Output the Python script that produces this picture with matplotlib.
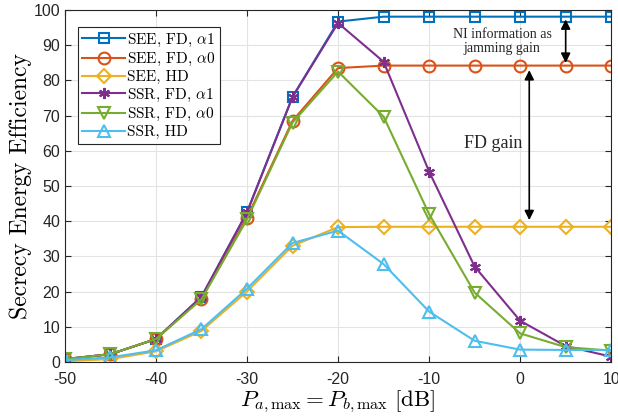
import numpy as np
import matplotlib
matplotlib.use("Agg")
import matplotlib.pyplot as plt

plt.rcParams['mathtext.fontset'] = 'cm'
plt.rcParams['font.family'] = ['Liberation Sans', 'DejaVu Sans']
plt.rcParams['axes.unicode_minus'] = False

# transmit power in dB
p_db = [-50, -45, -40, -35, -30, -25, -20, -15, -10, -5, 0, 5, 10]

see_fd_a1 = [0.8, 2.2, 6.5, 18.5, 42.5, 75.3, 96.7, 98.1, 98.1, 98.1, 98.1, 98.1, 98.1]
see_fd_a0 = [0.8, 2.2, 6.5, 18.0, 41.0, 68.5, 83.5, 84.2, 84.2, 84.2, 84.2, 84.2, 84.2]
see_hd = [0.2, 0.8, 3.0, 8.8, 20.0, 33.0, 38.3, 38.4, 38.4, 38.4, 38.4, 38.4, 38.4]
ssr_fd_a1 = [0.8, 2.2, 6.5, 18.5, 42.5, 75.3, 96.3, 85.3, 54.1, 27.1, 11.7, 4.5, 1.5]
ssr_fd_a0 = [0.8, 2.2, 6.5, 17.8, 40.5, 68.0, 82.5, 69.7, 42.0, 19.7, 8.1, 4.2, 3.2]
ssr_hd = [0.5, 1.3, 3.3, 9.3, 20.8, 33.8, 37.3, 27.8, 14.3, 6.0, 3.5, 3.4, 3.4]

labels = [r'SEE, FD, $\alpha1$', r'SEE, FD, $\alpha0$', 'SEE, HD',
          r'SSR, FD, $\alpha1$', r'SSR, FD, $\alpha0$', 'SSR, HD']
colors = ['#0072BD', '#D95319', '#EDB120', '#7E2F8E', '#77AC30', '#4DBEEE']
markers = ['s', 'o', 'D', (6, 2, 0), 'v', '^']
sizes = [7.5, 8.5, 7.5, 8, 9, 9]
series = [see_fd_a1, see_fd_a0, see_hd, ssr_fd_a1, ssr_fd_a0, ssr_hd]

fig = plt.figure(figsize=(6.18, 4.16), dpi=100)
ax = fig.add_axes([0.105, 0.13, 0.884, 0.846])

for y, lab, c, m, ms in zip(series, labels, colors, markers, sizes):
    ax.plot(p_db, y, color=c, marker=m, markersize=ms, markerfacecolor='none',
            markeredgecolor=c, markeredgewidth=1.5, linewidth=1.5, label=lab)

ax.set_xlim(-50, 10)
ax.set_ylim(0, 100)
ax.set_xticks(np.arange(-50, 11, 10))
ax.set_yticks(np.arange(0, 101, 10))
ax.tick_params(direction='in', top=True, right=True, labelsize=11.5, length=4,
               colors='#262626')
ax.tick_params(axis='x', pad=7)
ax.grid(True, color='#e3e3e3', linewidth=0.8)
ax.set_axisbelow(True)
for s in ax.spines.values():
    s.set_color('#262626')
    s.set_linewidth(0.8)

ax.set_xlabel(r'$P_{a,\mathrm{max}} = P_{b,\mathrm{max}}\ [\mathrm{dB}]$', fontsize=16.5, labelpad=1)
ax.set_ylabel('Secrecy Energy Efficiency', fontsize=17, family='cmr10', labelpad=1)

leg = ax.legend(loc='upper left', bbox_to_anchor=(0.018, 0.96),
                prop={'family': 'cmr10', 'size': 11}, fancybox=False,
                edgecolor='#262626', framealpha=1, handlelength=2.8, borderpad=0.3,
                labelspacing=0.15, handletextpad=0.15, borderaxespad=0.2)
leg.get_frame().set_linewidth(0.8)

# annotations
arrow = dict(arrowstyle='<|-|>', color='black', lw=1.2, mutation_scale=14)
ax.annotate('', xy=(5, 98.1), xytext=(5, 84.2), arrowprops=arrow)
ax.annotate('', xy=(1, 83.7), xytext=(1, 39.5), arrowprops=arrow)
ax.text(-2, 91, 'NI information as\njamming gain', fontsize=10, family='Liberation Serif',
        color='#262626', ha='center', va='center', linespacing=1.15)
ax.text(-3, 62, 'FD gain', fontsize=13, family='Liberation Serif', ha='center', va='center',
        color='#262626')

fig.savefig('out.png', dpi=100)
